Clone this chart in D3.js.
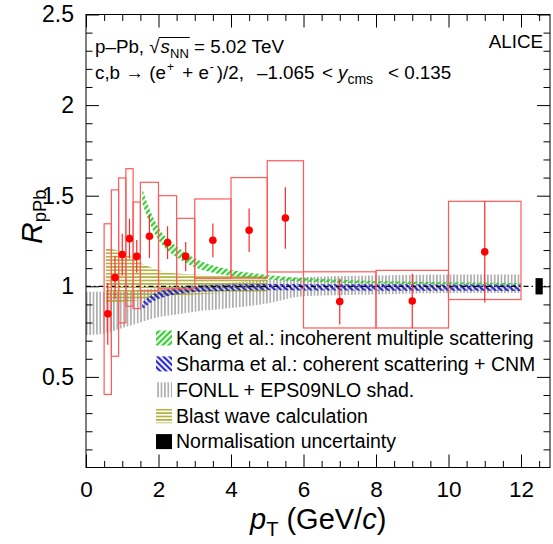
<!DOCTYPE html>
<html><head><meta charset="utf-8">
<script src="https://cdn.jsdelivr.net/npm/d3@7"></script>
<style>
body{margin:0;background:#fff}
text{font-family:"Liberation Sans",Arial,Helvetica,sans-serif;fill:#000}
</style>
</head><body>
<svg id="chart" width="553" height="544"></svg>
<script>
// ---- measured R_pPb of heavy-flavour decay electrons ----
const binLo    = [0.5, 0.7, 0.9, 1.1, 1.3, 1.5, 2.0, 2.5, 3.0, 4.0, 5.0, 6.0, 8.0, 10.0];
const binHi    = [0.7, 0.9, 1.1, 1.3, 1.5, 2.0, 2.5, 3.0, 4.0, 5.0, 6.0, 8.0, 10.0, 12.0];
const ptCenter = [0.6, 0.8, 1.0, 1.2, 1.4, 1.75, 2.25, 2.75, 3.5, 4.5, 5.5, 7.0, 9.0, 11.0];
const rpPb     = [0.848, 1.048, 1.175, 1.263, 1.165, 1.276, 1.241, 1.165, 1.254, 1.309, 1.377, 0.916, 0.919, 1.19];
const statErr  = [0.17, 0.12, 0.115, 0.11, 0.09, 0.12, 0.09, 0.08, 0.093, 0.12, 0.17, 0.127, 0.15, 0.28];
const systLow  = [0.403, 0.614, 0.798, 0.89, 0.877, 0.975, 0.986, 0.986, 1.044, 1.045, 1.079, 0.77, 0.77, 0.927];
const systHigh = [1.345, 1.532, 1.598, 1.649, 1.465, 1.574, 1.50, 1.375, 1.482, 1.60, 1.693, 1.08, 1.088, 1.469];
const normUnc  = 0.045;
const normPt   = [12.4, 12.6];

// ---- model bands ----
const kangPt   = [1.55, 1.75, 2.0, 2.25, 2.5, 3.0, 3.5, 4.0, 4.5, 5.0, 6.0, 7.0, 8.0, 10.0, 12.0];
const kangLow  = [1.46, 1.352, 1.255, 1.198, 1.16, 1.105, 1.075, 1.058, 1.045, 1.037, 1.026, 1.02, 1.015, 1.01, 1.008];
const kangHigh = [1.54, 1.428, 1.325, 1.262, 1.22, 1.155, 1.115, 1.092, 1.075, 1.063, 1.046, 1.036, 1.029, 1.022, 1.018];

const sharmaPt   = [1.55, 1.75, 2.0, 2.5, 3.0, 4.0, 5.0, 6.0, 8.0, 10.0, 12.0];
const sharmaLow  = [0.87, 0.905, 0.93, 0.955, 0.968, 0.975, 0.978, 0.977, 0.976, 0.975, 0.974];
const sharmaHigh = [0.91, 0.945, 0.97, 0.99, 1.002, 1.01, 1.013, 1.012, 1.011, 1.01, 1.009];

const fonllPt   = [0.0, 0.5, 1.0, 1.5, 2.0, 2.5, 3.0, 4.0, 5.0, 6.0, 8.0, 10.0, 12.0];
const fonllLow  = [0.73, 0.74, 0.77, 0.80, 0.83, 0.845, 0.86, 0.88, 0.905, 0.945, 0.955, 0.963, 0.963];
const fonllHigh = [0.97, 0.97, 0.97, 0.98, 0.99, 1.0, 1.01, 1.02, 1.035, 1.05, 1.06, 1.065, 1.065];

const bwPt   = [0.55, 1.0, 1.5, 2.0, 2.5, 3.0, 4.0, 5.0];
const bwLow  = [0.91, 0.915, 0.925, 0.94, 0.95, 0.955, 0.965, 0.97];
const bwHigh = [1.21, 1.19, 1.13, 1.09, 1.07, 1.065, 1.06, 1.055];

// ---- axes and labels ----
const xTicks = [0, 2, 4, 6, 8, 10, 12];
const yTicks = [0.5, 1, 1.5, 2, 2.5];
const legendLabels = [
  "Kang et al.: incoherent multiple scattering",
  "Sharma et al.: coherent scattering + CNM",
  "FONLL + EPS09NLO shad.",
  "Blast wave calculation",
  "Normalisation uncertainty"
];

const svg = d3.select("#chart");
const L = 86, R = 550, T = 14.5, B = 467.5;
const x = d3.scaleLinear().domain([0, 12.8]).range([L, R]);
const y = d3.scaleLinear().domain([0, 2.5]).range([B, T]);

// hatch patterns
const defs = svg.append("defs");
function hatch(id, color, angle, gap, width) {
  const p = defs.append("pattern").attr("id", id)
    .attr("patternUnits", "userSpaceOnUse").attr("width", gap).attr("height", gap)
    .attr("patternTransform", `rotate(${angle})`);
  p.append("line").attr("x1", gap / 2).attr("y1", -1).attr("x2", gap / 2).attr("y2", gap + 1)
    .attr("stroke", color).attr("stroke-width", width);
}
hatch("hKang", "#22cc22", 45, 4.2, 2);
hatch("hSharma", "#1a1acc", -45, 4.2, 2);
hatch("hFonll", "#a6a6a6", 0, 3.4, 1.5);
hatch("hBw", "#a3a31c", 90, 3.4, 1.4);

const plot = svg.append("g");
const clip = defs.append("clipPath").attr("id", "frame");
clip.append("rect").attr("x", L).attr("y", T).attr("width", R - L).attr("height", B - T);
plot.attr("clip-path", "url(#frame)");

function band(pt, lo, hi, fill) {
  const data = pt.map((p, i) => ({p, lo: lo[i], hi: hi[i]}));
  const area = d3.area().x(d => x(d.p)).y0(d => y(d.lo)).y1(d => y(d.hi)).curve(d3.curveMonotoneX);
  plot.append("path").attr("d", area(data)).attr("fill", fill);
}
band(fonllPt, fonllLow, fonllHigh, "url(#hFonll)");
band(bwPt, bwLow, bwHigh, "url(#hBw)");
band(sharmaPt, sharmaLow, sharmaHigh, "url(#hSharma)");
band(kangPt, kangLow, kangHigh, "url(#hKang)");

// reference line at unity
plot.append("line").attr("x1", x(0)).attr("x2", x(12.8)).attr("y1", y(1)).attr("y2", y(1))
  .attr("stroke", "#000").attr("stroke-width", 1.3).attr("stroke-dasharray", "5,3,1.5,3");

// systematic boxes
const meas = ptCenter.map((p, i) => ({p, lo: binLo[i], hi: binHi[i], v: rpPb[i], s: statErr[i], sl: systLow[i], sh: systHigh[i]}));
plot.selectAll("rect.syst").data(meas).join("rect").attr("class", "syst")
  .attr("x", d => x(d.lo)).attr("width", d => x(d.hi) - x(d.lo))
  .attr("y", d => y(d.sh)).attr("height", d => y(d.sl) - y(d.sh))
  .attr("fill", "none").attr("stroke", "#ff5a5a").attr("stroke-width", 1.2);
// statistical error bars
plot.selectAll("line.stat").data(meas).join("line").attr("class", "stat")
  .attr("x1", d => x(d.p)).attr("x2", d => x(d.p))
  .attr("y1", d => y(d.v + d.s)).attr("y2", d => y(d.v - d.s))
  .attr("stroke", "#ff2a2a").attr("stroke-width", 1.2);
plot.selectAll("circle.pt").data(meas).join("circle").attr("class", "pt")
  .attr("cx", d => x(d.p)).attr("cy", d => y(d.v)).attr("r", 3.8).attr("fill", "#ff0000");

// normalisation uncertainty
plot.append("rect").attr("x", x(normPt[0])).attr("width", x(normPt[1]) - x(normPt[0]))
  .attr("y", y(1 + normUnc)).attr("height", y(1 - normUnc) - y(1 + normUnc)).attr("fill", "#000");

// axes
const xMinor = d3.range(0, 12.8, 0.5).filter(v => v % 2 !== 0);
const yMinor = d3.range(1, 25).map(v => v / 10).filter(v => Math.round(v * 10) % 5 !== 0);
function ax(axisFn, scale, pos, vals, size, labels, pad, fs) {
  const a = axisFn(scale).tickValues(vals).tickSizeInner(-size).tickSizeOuter(0).tickPadding(pad || 0)
    .tickFormat(labels ? (d => String(d)) : "");
  const g = svg.append("g").attr("transform", pos).call(a);
  g.select(".domain").remove();
  g.selectAll("line").attr("stroke", "#000").attr("stroke-width", 1);
  g.selectAll("text").attr("font-size", fs || 22).attr("font-family", "Liberation Sans, Arial, sans-serif").attr("fill", "#000");
  return g;
}
ax(d3.axisBottom, x, `translate(0,${B})`, xTicks, 13, true, 14, 22.5);
ax(d3.axisBottom, x, `translate(0,${B})`, xMinor, 6.5, false);
ax(d3.axisTop, x, `translate(0,${T})`, xTicks, 13, false);
ax(d3.axisTop, x, `translate(0,${T})`, xMinor, 6.5, false);
ax(d3.axisLeft, y, `translate(${L},0)`, yTicks, 13, true, 12, 23);
ax(d3.axisLeft, y, `translate(${L},0)`, yMinor, 6.5, false);
ax(d3.axisRight, y, `translate(${R},0)`, yTicks, 13, false);
ax(d3.axisRight, y, `translate(${R},0)`, yMinor, 6.5, false);
svg.append("rect").attr("x", L).attr("y", T).attr("width", R - L).attr("height", B - T)
  .attr("fill", "none").attr("stroke", "#000").attr("stroke-width", 1);

// axis titles
const xt = svg.append("text").attr("x", 250).attr("y", 529).attr("font-size", 29);
xt.append("tspan").attr("font-style", "italic").text("p");
xt.append("tspan").attr("font-size", 20).attr("dy", 7).text("T");
xt.append("tspan").attr("dy", -7).text(" (GeV/");
xt.append("tspan").attr("font-style", "italic").text("c");
xt.append("tspan").text(")");

const yt = svg.append("text").attr("transform", "translate(42,244) rotate(-90)").attr("font-size", 30);
yt.append("tspan").attr("font-style", "italic").text("R");
yt.append("tspan").attr("font-size", 18.5).attr("dy", 3.5).text("pPb");

// header
const hfs = 18.8;
const h1 = svg.append("text").attr("x", 95).attr("y", 53).attr("font-size", hfs);
h1.append("tspan").text("p\u2013Pb, \u221A");
h1.append("tspan").attr("font-style", "italic").attr("dx", 1).text("s");
h1.append("tspan").attr("font-size", 13).attr("dy", 4.5).text("NN");
h1.append("tspan").attr("dy", -4.5).text(" = 5.02 TeV");
{
  const n = h1.node();
  const a = n.getExtentOfChar(6), b = n.getExtentOfChar(9);
  svg.append("line").attr("x1", a.x + a.width - 0.8).attr("x2", b.x + b.width + 1)
    .attr("y1", 53 - 15.5).attr("y2", 53 - 15.5).attr("stroke", "#000").attr("stroke-width", 1);
}
const h2 = svg.append("text").attr("x", 95).attr("y", 79).attr("font-size", hfs);
h2.append("tspan").text("c,b \u2192 (e");
h2.append("tspan").attr("font-size", 12).attr("dy", -8).attr("dx", 1).text("+");
h2.append("tspan").attr("dy", 8).attr("dx", 3).text(" + e");
h2.append("tspan").attr("font-size", 12).attr("dy", -8).attr("dx", 1).text("-");
h2.append("tspan").attr("dy", 8).attr("dx", 3).text(")/2,");
h2.append("tspan").attr("x", 257).text("\u20131.065");
h2.append("tspan").attr("x", 322).text("<");
h2.append("tspan").attr("x", 338).attr("font-style", "italic").text("y");
h2.append("tspan").attr("font-size", 14).attr("dy", 5).text("cms");
h2.append("tspan").attr("dy", -5).attr("x", 388).text("< 0.135");

svg.append("text").attr("x", 543).attr("y", 48).attr("text-anchor", "end").attr("font-size", hfs).text("ALICE");

// legend
const legFills = ["url(#hKang)", "url(#hSharma)", "url(#hFonll)", "url(#hBw)", "#000"];
const leg = svg.append("g");
legendLabels.forEach((lab, i) => {
  const cy = 338 + i * 25.9;
  leg.append("rect").attr("x", 156).attr("y", cy - 7.5).attr("width", 16).attr("height", 15).attr("fill", legFills[i]);
  leg.append("text").attr("x", 176).attr("y", cy + 6.8).attr("font-size", 19.5).text(lab);
});
</script>
</body></html>
